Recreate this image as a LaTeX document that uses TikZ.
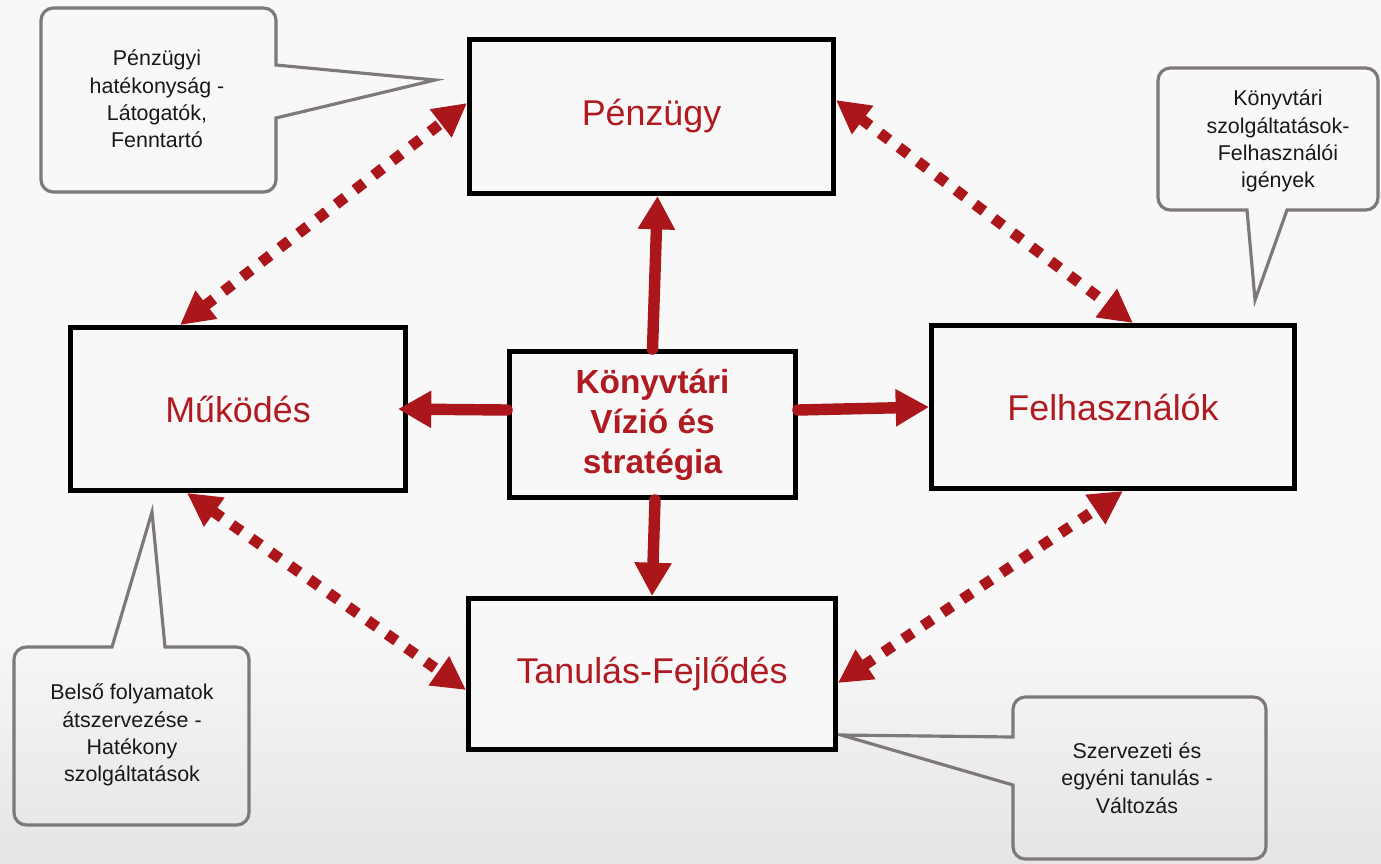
\documentclass[tikz,border=0pt]{standalone}
\usepackage{fontspec}
\setmainfont{Liberation Sans}
\usetikzlibrary{arrows.meta,shadows}
\definecolor{bgc}{RGB}{248,248,248}
\definecolor{bgd}{RGB}{230,229,230}
\definecolor{arr}{RGB}{170,22,26}
\definecolor{txr}{RGB}{176,27,33}
\definecolor{cog}{RGB}{127,120,120}
\definecolor{ctx}{RGB}{25,25,25}
\begin{document}
\begin{tikzpicture}[x=0.02cm,y=-0.02cm,
  box/.style={draw=black, line width=2.8pt, fill=bgc, inner sep=0pt, align=center,
    text=txr, font=\fontsize{20.4}{24}\selectfont,
    drop shadow={shadow xshift=1.5pt,shadow yshift=-1.5pt,opacity=0.25}},
  sarrow/.style={draw=arr, line width=6.5pt, line cap=round, -{Triangle[length=19pt,width=20pt]}},
  darrow/.style={draw=arr, line width=6.2pt, dash pattern=on 6.5pt off 7pt,
    {Triangle[length=19pt,width=19pt]}-{Triangle[length=19pt,width=19pt]}},
  callout/.style={draw=cog, line width=1.8pt, line join=miter},
  ctext/.style={align=center, text=ctx, inner sep=0pt, font=\fontsize{12.2}{15.5}\selectfont}]
\useasboundingbox (0,0) rectangle (1381,863);
\fill[bgc] (0,0) rectangle (1381,863);
\shade[top color=bgc, bottom color=bgd] (0,620) rectangle (1381,863);

% callout shapes
\draw[callout] (41,100) [rounded corners=7pt] -- (41,8) -- (276,8) [sharp corners] -- (276,65) -- (435,80) -- (276,118) [rounded corners=7pt] -- (276,192) -- (41,192) -- cycle;
\draw[callout] (1158,140) [rounded corners=7pt] -- (1158,68) -- (1378,68) -- (1378,210) [sharp corners] -- (1287,210) -- (1255,300) -- (1247,210) [rounded corners=7pt] -- (1158,210) -- cycle;
\draw[callout] (14,740) [rounded corners=7pt] -- (14,647) [sharp corners] -- (112,647) -- (152,512) -- (165,647) [rounded corners=7pt] -- (249,647) -- (249,825) -- (14,825) -- cycle;
\draw[callout] (1140,697) [rounded corners=7pt] -- (1266,697) -- (1266,859) -- (1013,859) [sharp corners] -- (1013,785) -- (841,735) -- (1013,737) [rounded corners=7pt] -- (1013,697) -- cycle;

\node[ctext] (n1) at (157,99) {Pénzügyi\\hatékonyság -\\Látogatók,\\Fenntartó};
\node[ctext] (n2) at (1278,141) {Könyvtári\\szolgáltatások-\\Felhasználói\\igények};
\node[ctext] (n3) at (132,735) {Belső folyamatok\\átszervezése -\\Hatékony\\szolgáltatások};
\node[ctext] (n4) at (1137,778) {Szervezeti és\\egyéni tanulás -\\Változás};

% boxes
\node[box, minimum width=7.28cm, minimum height=3.08cm] (p) at (651.5,116.5) {Pénzügy};
\node[box, minimum width=6.7cm, minimum height=3.26cm] (m) at (238,409) {Működés};
\node[box, minimum width=5.72cm, minimum height=2.92cm, font=\fontsize{19}{22.7}\selectfont\bfseries] (c) at (652.5,424.5) {Könyvtári\\Vízió és\\stratégia};
\node[box, minimum width=7.26cm, minimum height=3.26cm] (f) at (1113,407) {Felhasználók};
\node[box, minimum width=7.34cm, minimum height=3.02cm] (t) at (652,674) {Tanulás-Fejlődés};

% solid arrows
\draw[sarrow] (c.north) -- ([xshift=0.12cm]p.south);
\draw[sarrow] ([yshift=0.29cm]c.west) -- ([xshift=-0.2cm]m.east);
\draw[sarrow] ([yshift=0.29cm]c.east) -- (f.west);
\draw[sarrow] ([xshift=0.05cm]c.south) -- (t.north);

% dotted arrows
\draw[darrow] ([xshift=-1.16cm]m.north) -- ([yshift=0.27cm]p.west);
\draw[darrow] ([yshift=0.33cm]p.east) -- ([xshift=0.4cm]f.north);
\draw[darrow] ([xshift=-1.02cm]m.south) -- ([yshift=-0.32cm]t.west);
\draw[darrow] ([yshift=-0.18cm]t.east) -- ([xshift=0.2cm]f.south);
\end{tikzpicture}
\end{document}
